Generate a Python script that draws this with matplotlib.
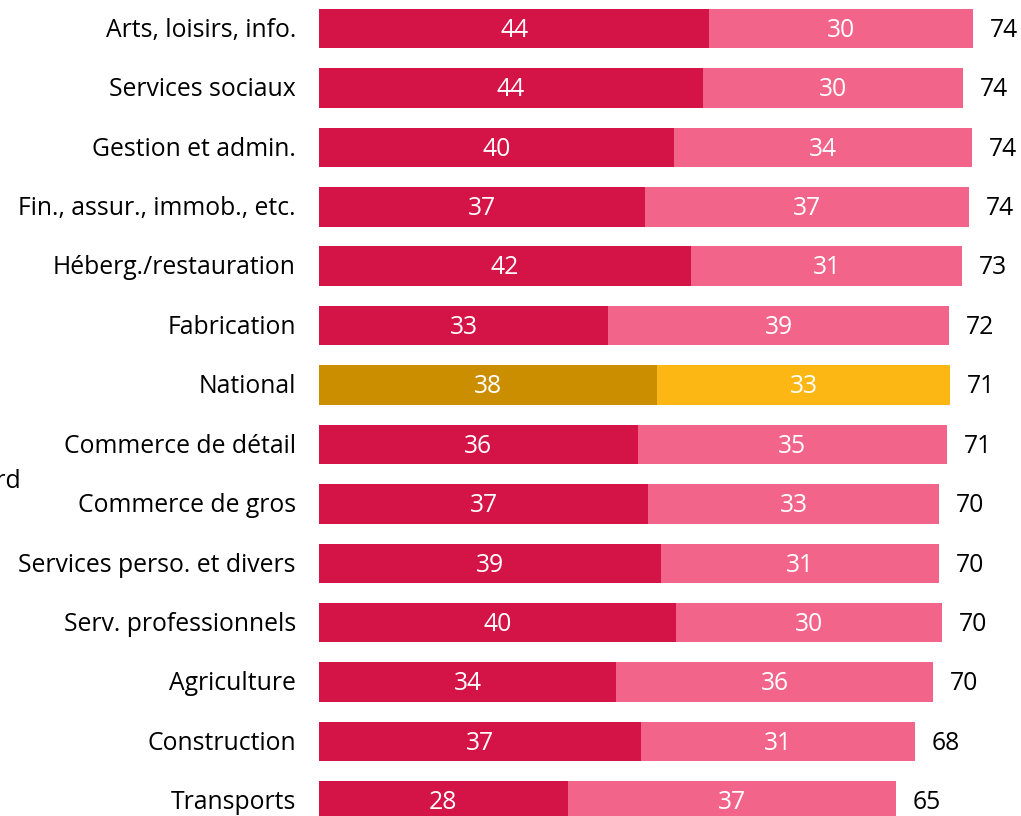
import matplotlib
matplotlib.use("Agg")
import matplotlib.pyplot as plt

plt.rcParams["font.family"] = ["Open Sans", "DejaVu Sans"]

# données
categories = ["Arts, loisirs, info.", "Services sociaux", "Gestion et admin.",
              "Fin., assur., immob., etc.", "Héberg./restauration", "Fabrication",
              "National", "Commerce de détail", "Commerce de gros",
              "Services perso. et divers", "Serv. professionnels", "Agriculture",
              "Construction", "Transports"]
part1 = [44.1, 43.4, 40.1, 36.8, 42.0, 32.7, 38.2, 36.0, 37.2, 38.6, 40.3, 33.6, 36.4, 28.1]
part2 = [29.8, 29.4, 33.7, 36.6, 30.7, 38.5, 33.1, 35.0, 32.9, 31.5, 30.1, 35.8, 30.9, 37.1]
label1 = [44, 44, 40, 37, 42, 33, 38, 36, 37, 39, 40, 34, 37, 28]
label2 = [30, 30, 34, 37, 31, 39, 33, 35, 33, 31, 30, 36, 31, 37]
totals = [74, 74, 74, 74, 73, 72, 71, 71, 70, 70, 70, 70, 68, 65]

fig = plt.figure(figsize=(10.21, 8.16), dpi=100)
ax = fig.add_axes([319 / 1021, 0, 702 / 1021, 1])

y = list(range(len(categories)))
c1 = ["#CB8E00" if c == "National" else "#D41346" for c in categories]
c2 = ["#FDB714" if c == "National" else "#F2648A" for c in categories]

ax.barh(y, part1, height=0.665, color=c1)
ax.barh(y, part2, left=part1, height=0.665, color=c2)

fs = 17.8
for i in y:
    ax.text(part1[i] / 2, i + 0.03, str(label1[i]), ha="center", va="center",
            color="white", fontsize=fs)
    ax.text(part1[i] + part2[i] / 2, i + 0.03, str(label2[i]), ha="center", va="center",
            color="white", fontsize=fs)
    ax.text(part1[i] + part2[i] + 1.9, i + 0.03, str(totals[i]), ha="left", va="center",
            color="black", fontsize=fs)
    ax.text(-2.6, i + 0.03, categories[i], ha="right", va="center",
            color="black", fontsize=fs)

ax.set_xlim(0, 702 / 8.85)
ax.set_ylim(13 + 15 / 59.5, -28.5 / 59.5)
ax.axis("off")

# libellé d'axe coupé à gauche
fig.text(21 / 1021, 1 - 481 / 816, "Secteur standard", ha="right", va="center",
         fontsize=fs)

plt.savefig("out.png", dpi=100)
